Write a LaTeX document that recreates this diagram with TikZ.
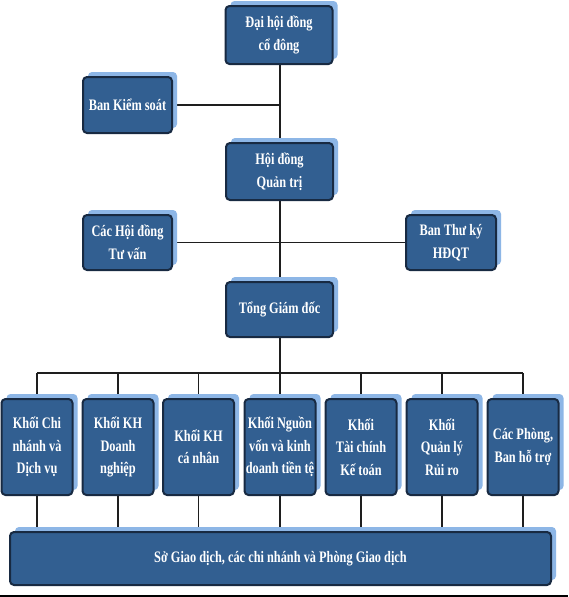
\documentclass[tikz,border=0pt]{standalone}
\usepackage{fontspec}
\setmainfont{Liberation Serif}[FakeStretch=0.77]
\usetikzlibrary{shadows,backgrounds}
\definecolor{boxfill}{RGB}{50,95,145}
\definecolor{boxline}{RGB}{24,42,66}
\definecolor{shadowblue}{RGB}{141,182,230}
\definecolor{linecol}{RGB}{30,30,30}
\tikzset{
  orgbox/.style={draw=boxline, line width=2pt, fill=boxfill, rounded corners=4pt,
    text=white, font=\fontsize{16}{22.5}\selectfont\bfseries, align=center,
    inner sep=0pt,
    general shadow={fill=shadowblue, shadow xshift=5pt, shadow yshift=5pt}},
  conn/.style={draw=linecol, line width=1.6pt}
}
\begin{document}
\begin{tikzpicture}[x=1pt,y=-1pt]
\useasboundingbox (0,0) rectangle (568,597);
% junction coordinates
\coordinate (j1) at (280,105);
\coordinate (j2) at (280,242.5);
\coordinate (bus) at (280,373);
% upper nodes
\node[orgbox, minimum width=107pt, minimum height=58pt] (dh) at (279,35) {Đại hội đồng\\cổ đông};
\node[orgbox, minimum width=89pt, minimum height=56pt] (bks) at (127.5,105) {Ban Kiểm soát};
\node[orgbox, minimum width=107pt, minimum height=57pt] (hd) at (279.5,171.5) {Hội đồng\\Quản trị};
\node[orgbox, minimum width=89pt, minimum height=55pt] (chd) at (127.5,242.5) {Các Hội đồng\\Tư vấn};
\node[orgbox, minimum width=90pt, minimum height=55pt] (btk) at (451,242.5) {Ban Thư ký\\HĐQT};
\node[orgbox, minimum width=107pt, minimum height=55pt] (tgd) at (279.5,309.5) {Tổng Giám đốc};
% lower nodes
\node[orgbox, minimum width=71pt, minimum height=96pt] (k1) at (37,447) {Khối Chi\\nhánh và\\Dịch vụ};
\node[orgbox, minimum width=71pt, minimum height=96pt] (k2) at (118,447) {Khối KH\\Doanh\\nghiệp};
\node[orgbox, minimum width=71pt, minimum height=96pt] (k3) at (198.5,447) {Khối KH\\cá nhân};
\node[orgbox, minimum width=71pt, minimum height=96pt] (k4) at (280,447) {Khối Nguồn\\vốn và kinh\\doanh tiền tệ};
\node[orgbox, minimum width=71pt, minimum height=96pt] (k5) at (361,447) {Khối\\Tài chính\\Kế toán};
\node[orgbox, minimum width=71pt, minimum height=96pt] (k6) at (442,447) {Khối\\Quản lý\\Rủi ro};
\node[orgbox, minimum width=71pt, minimum height=96pt] (k7) at (523,447) {Các Phòng,\\Ban hỗ trợ};
\node[orgbox, minimum width=541pt, minimum height=53pt] (bar) at (280.5,558.5) {Sở Giao dịch, các chi nhánh và Phòng Giao dịch};
% connectors (behind boxes)
\begin{scope}[on background layer]
\fill[white] (0,0) rectangle (568,597);
\fill[black] (0,595) rectangle (568,597);
\draw[conn] (dh.south -| bus) -- (tgd.north -| bus);
\draw[conn] (bks.east) -- (j1);
\draw[conn] (chd.east) -- (btk.west);
\draw[conn] (tgd.south -| bus) -- (bus);
\draw[conn] (k1.north |- bus) -- (k7.north |- bus);
\foreach \k in {k1,k2,k3,k4,k5,k6,k7}{
  \draw[conn] (\k.north) -- (\k.north |- bus);
  \draw[conn] (\k.south) -- (\k.south |- bar.north);
}
\end{scope}
\end{tikzpicture}
\end{document}
